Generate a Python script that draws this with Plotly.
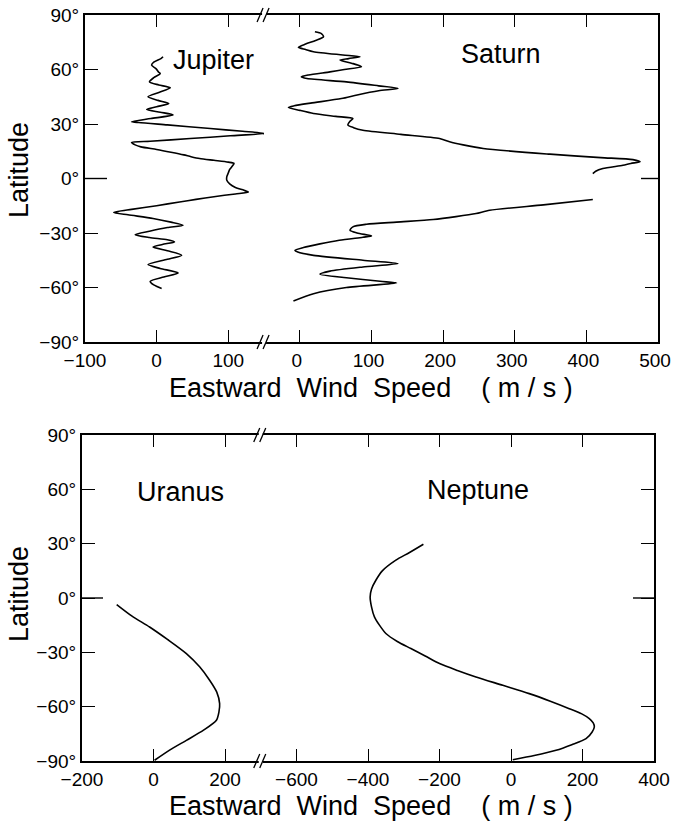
import plotly.graph_objects as go

# ---------------- data (latitude in degrees, eastward wind in m/s) ----------------
jupiter_lat = [67.0, 66.0, 64.0, 62.4, 60.5, 58.5, 57.7, 55.5, 53.2, 51.5, 49.9, 47.5, 45.0,
               43.0, 41.3, 39.5, 38.0, 36.5, 35.0, 33.0, 31.3, 30.8, 29.5, 27.5, 26.0, 24.8,
               23.5, 22.0, 20.5, 19.8, 18.5, 17.4, 16.0, 14.5, 13.0, 12.0, 11.0, 10.0, 9.0,
               8.3, 7.0, 5.0, 3.0, 1.0, -1.0, -3.0, -5.0, -6.5, -7.5, -8.5, -10.0, -11.5,
               -12.9, -15.0, -17.0, -18.7, -20.0, -22.0, -24.0, -25.7, -27.0, -29.0, -30.9,
               -32.5, -33.7, -34.9, -36.3, -37.7, -39.8, -42.2, -44.5, -47.4, -49.5, -52.0,
               -54.2, -56.6, -58.6, -60.6]
jupiter_u = [9, 6, -4, -7, -1, 3, 5, -4, -10, 3, 19, 4, -12,
             2, 17, 0, -14, 5, 23, -8, -35, -25, 15, 75, 120, 151,
             103, 47, -9, -35, -30, -22, 0, 20, 38, 48, 60, 80, 100,
             108, 106, 102, 100, 98, 98, 102, 110, 122, 128, 110, 80, 55,
             32, 0, -35, -60, -40, -5, 20, 37, 15, -10, -30,
             -10, 15, 25, 8, -5, 15, 35, 15, -12, 5, 30,
             10, -9, -4, 7]

saturn_lat_n = [80.8, 79.8, 78.0, 76.0, 74.0, 72.2, 71.0, 69.8, 68.0, 67.0, 66.0, 65.2, 63.5,
                61.5, 60.0, 58.7, 57.0, 56.0, 55.0, 53.2, 51.0, 49.6, 48.3, 46.0, 44.0, 41.5,
                40.0, 39.1, 37.5, 35.8, 34.2, 33.0, 31.5, 29.5, 28.0, 26.6, 24.3, 22.0, 20.2,
                18.5, 16.5, 13.4, 11.5, 10.4, 9.2, 8.3, 7.3, 5.5, 4.0, 2.7]
saturn_u_n = [21, 30, 33, 22, 8, -2, 8, 19, 60, 84, 68, 56, 72,
              86, 62, 42, 12, 2, 10, 65, 110, 137, 110, 80, 58, 15,
              -8, -16, 0, 19, 50, 74, 70, 67, 75, 88, 141, 195, 209,
              228, 256, 349, 420, 465, 475, 462, 451, 423, 413, 409]
saturn_lat_s = [-11.6, -14.5, -17.5, -19.3, -21.0, -22.6, -24.0, -25.2, -26.6, -28.5, -30.0,
                -31.6, -32.3, -34.0, -36.0, -38.0, -39.5, -40.5, -42.3, -45.0, -46.8, -48.7,
                -51.0, -52.7, -54.6, -56.6, -57.5, -60.0, -63.4, -67.4]
saturn_u_s = [409, 340, 265, 246, 218, 186, 135, 93, 74, 70, 80,
              100, 88, 55, 28, 5, -7, -3, 19, 88, 137, 88,
              42, 28, 65, 112, 135, 65, 19, -9]

uranus_lat = [-3.6, -10.0, -16.0, -23.0, -30.7, -38.0, -45.4, -52.0, -58.3, -63.0, -67.5,
              -73.0, -78.6, -84.0, -89.6]
uranus_u = [-103, -60, -11, 40, 92, 129, 157, 177, 185, 183, 176, 140, 92, 45, 3]

neptune_lat = [29.7, 25.0, 20.9, 15.0, 9.8, 5.0, 0.6, -5.0, -10.4, -15.0, -19.6, -24.0, -27.9,
               -32.0, -36.2, -40.0, -43.6, -48.2, -52.8, -57.0, -61.1, -64.0, -66.6, -69.0,
               -71.2, -74.0, -77.7, -81.0, -84.1, -87.0, -89.3]
neptune_u = [-245, -285, -322, -360, -378, -390, -394, -390, -382, -368, -350, -318, -280,
             -240, -200, -150, -98, -23, 51, 110, 163, 198, 219, 230,
             233, 227, 210, 170, 126, 65, 5]

lat_ticks = [90, 60, 30, 0, -30, -60, -90]
lat_labels = ["90°", "60°", "30°", "0°", "−30°", "−60°", "−90°"]
jup_ticks = [-100, 0, 100]
jup_labels = ["−100", "0", "100"]
sat_ticks = [0, 100, 200, 300, 400, 500]
sat_labels = ["0", "100", "200", "300", "400", "500"]
ura_ticks = [-200, 0, 200]
ura_labels = ["−200", "0", "200"]
nep_ticks = [-600, -400, -200, 0, 200, 400]
nep_labels = ["−600", "−400", "−200", "0", "200", "400"]
jup_range = [-100, 150]
sat_range = [-50, 500]
ura_range = [-200, 300]
nep_range = [-700, 400]
x_title = "Eastward\u00a0 Wind\u00a0 Speed\u00a0\u00a0\u00a0 ( m / s )"

# ---------------- layout geometry (pixels) ----------------
W, H = 673, 827
TOP = dict(l=85, r=658, t=15, b=342)
BOT = dict(l=82, r=654, t=435, b=761)
SPLIT = 0.3125


def fx(p):
    return p / W


def fy(p):
    return 1 - p / H


top_break = TOP["l"] + (TOP["r"] - TOP["l"]) * SPLIT
bot_break = BOT["l"] + (BOT["r"] - BOT["l"]) * SPLIT

tickfont = dict(family="Liberation Sans, Arial", size=19, color="black")
labfont = dict(family="Liberation Sans, Arial", size=27, color="black")

line_style = dict(color="black", width=1.6, shape="spline", smoothing=0.7)

fig = go.Figure()
fig.add_trace(go.Scatter(x=jupiter_u, y=jupiter_lat, xaxis="x", yaxis="y", mode="lines", line=line_style))
fig.add_trace(go.Scatter(x=saturn_u_n, y=saturn_lat_n, xaxis="x2", yaxis="y2", mode="lines", line=line_style))
fig.add_trace(go.Scatter(x=saturn_u_s, y=saturn_lat_s, xaxis="x2", yaxis="y2", mode="lines", line=line_style))
fig.add_trace(go.Scatter(x=uranus_u, y=uranus_lat, xaxis="x3", yaxis="y3", mode="lines", line=line_style))
fig.add_trace(go.Scatter(x=neptune_u, y=neptune_lat, xaxis="x4", yaxis="y4", mode="lines", line=line_style))

common = dict(showline=True, linecolor="black", linewidth=2, ticks="inside", tickcolor="black",
              tickwidth=1.4, showgrid=False, zeroline=False, tickfont=tickfont, fixedrange=True,
              automargin=False, ticklabeloverflow="allow")

xcommon = dict(common, ticklen=12, mirror="ticks")
ycommon = dict(common, ticklen=13, range=[-90, 90], tickvals=lat_ticks)

fig.update_layout(
    template="none",
    width=W, height=H,
    margin=dict(l=0, r=0, t=0, b=0, pad=0),
    paper_bgcolor="white", plot_bgcolor="white",
    showlegend=False,
    xaxis=dict(xcommon, domain=[fx(TOP["l"]), fx(top_break)], range=jup_range, anchor="y",
               tickvals=jup_ticks, ticktext=jup_labels),
    xaxis2=dict(xcommon, domain=[fx(top_break), fx(TOP["r"])], range=sat_range, anchor="y2",
                tickvals=sat_ticks, ticktext=sat_labels, ticklabelshift=-3),
    xaxis3=dict(xcommon, domain=[fx(BOT["l"]), fx(bot_break)], range=ura_range, anchor="y3",
                tickvals=ura_ticks, ticktext=ura_labels),
    xaxis4=dict(xcommon, domain=[fx(bot_break), fx(BOT["r"])], range=nep_range, anchor="y4",
                tickvals=nep_ticks, ticktext=nep_labels),
    yaxis=dict(ycommon, domain=[fy(TOP["b"]), fy(TOP["t"])], anchor="x", side="left",
               ticktext=lat_labels),
    yaxis2=dict(ycommon, domain=[fy(TOP["b"]), fy(TOP["t"])], anchor="x2", side="right",
                showticklabels=False),
    yaxis3=dict(ycommon, domain=[fy(BOT["b"]), fy(BOT["t"])], anchor="x3", side="left",
                ticktext=lat_labels),
    yaxis4=dict(ycommon, domain=[fy(BOT["b"]), fy(BOT["t"])], anchor="x4", side="right",
                showticklabels=False),
)

# axis-break marks "//"
shapes = []
for bx, ys in ((top_break, (TOP["t"], TOP["b"])), (bot_break, (BOT["t"], BOT["b"]))):
    for yy in ys:
        shapes.append(dict(type="line", xref="paper", yref="paper",
                           x0=fx(bx - 2), x1=fx(bx + 2), y0=fy(yy), y1=fy(yy),
                           line=dict(color="white", width=4)))
        for off in (-4, 2):
            shapes.append(dict(type="line", xref="paper", yref="paper",
                               x0=fx(bx + off - 3), x1=fx(bx + off + 3),
                               y0=fy(yy + 7), y1=fy(yy - 7),
                               line=dict(color="black", width=1.3)))
# longer ticks at the equator
eq_ticks = [("x domain", 0, 22 / (top_break - TOP["l"]), "y"),
            ("x2 domain", 1 - 17 / (TOP["r"] - top_break), 1, "y2"),
            ("x3 domain", 0, 21 / (bot_break - BOT["l"]), "y3"),
            ("x4 domain", 1 - 21 / (BOT["r"] - bot_break), 1, "y4")]
for xref, a, b, yref in eq_ticks:
    shapes.append(dict(type="line", xref=xref, yref=yref, x0=a, x1=b, y0=0, y1=0,
                       line=dict(color="black", width=1.4)))
fig.update_layout(shapes=shapes)

ann = []
for text, x, y in (("Jupiter", 213, 60), ("Saturn", 501, 54), ("Uranus", 180, 492), ("Neptune", 478, 490)):
    ann.append(dict(text=text, x=fx(x), y=fy(y), xref="paper", yref="paper", showarrow=False,
                    xanchor="center", yanchor="middle", font=labfont))
for y in (388, 806):
    ann.append(dict(text=x_title, x=fx(371), y=fy(y), xref="paper", yref="paper", showarrow=False,
                    xanchor="center", yanchor="middle", font=labfont))
for y in (170, 594):
    ann.append(dict(text="Latitude", x=fx(19), y=fy(y), xref="paper", yref="paper", showarrow=False,
                    xanchor="center", yanchor="middle", textangle=-90, font=labfont))
fig.update_layout(annotations=ann)

fig.write_html("out.html")
